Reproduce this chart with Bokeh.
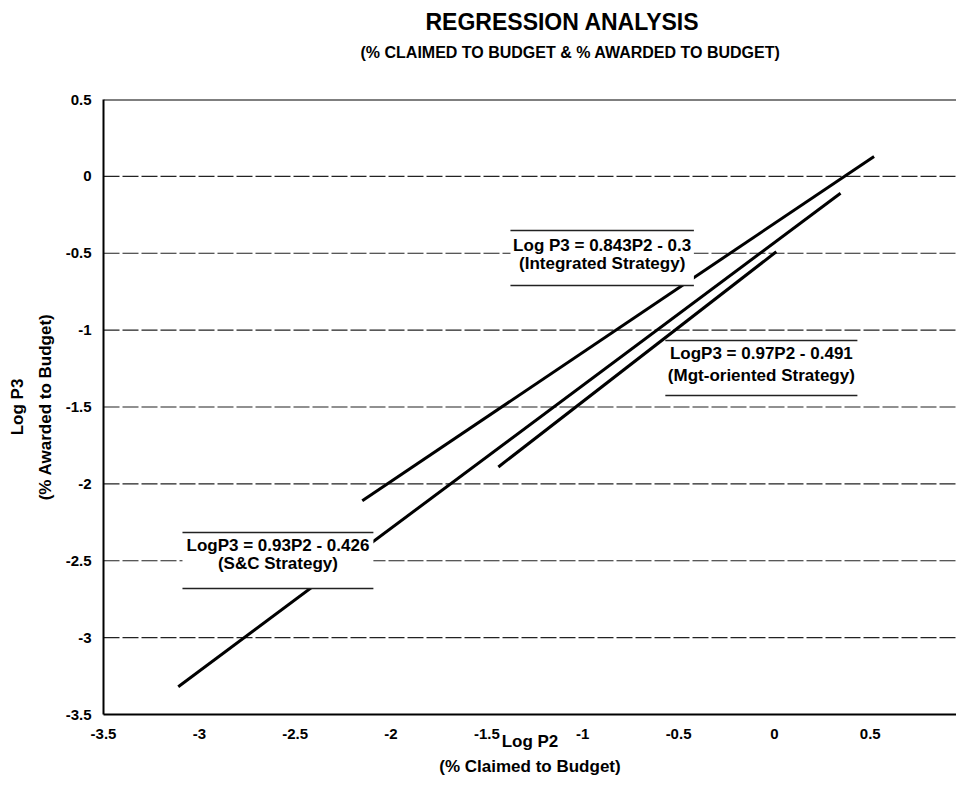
from bokeh.plotting import figure
from bokeh.models import Span, FixedTicker, LinearAxis, Title
from bokeh.core.properties import value
from bokeh.embed import file_html
from bokeh.resources import INLINE

# ---- data ----
strategies = ["Integrated", "S&C", "Mgt-oriented"]
x_start = [-2.15, -3.11, -1.44]
y_start = [-2.11, -3.32, -1.89]
x_end = [0.52, 0.345, 0.01]
y_end = [0.13, -0.11, -0.49]
eq_labels = ["Log P3 = 0.843P2 - 0.3", "LogP3 = 0.93P2 - 0.426", "LogP3 = 0.97P2 - 0.491"]
strategy_labels = ["(Integrated Strategy)", "(S&C Strategy)", "(Mgt-oriented Strategy)"]
x_ticks = [-3.5, -3, -2.5, -2, -1.5, -1, -0.5, 0, 0.5]
x_tick_labels = ["-3.5", "-3", "-2.5", "-2", "-1.5", "-1", "-0.5", "0", "0.5"]
y_ticks = [0.5, 0, -0.5, -1, -1.5, -2, -2.5, -3, -3.5]
y_tick_labels = ["0.5", "0", "-0.5", "-1", "-1.5", "-2", "-2.5", "-3", "-3.5"]
grid_levels = [0, -0.5, -1, -1.5, -2, -2.5, -3]

title_text = "REGRESSION ANALYSIS"
subtitle_text = "(% CLAIMED TO BUDGET & % AWARDED TO BUDGET)"
x_title = "Log P2"
x_subtitle = "(% Claimed to Budget)"
y_title = "Log P3"
y_subtitle = "(% Awarded to Budget)"

# annotation box layout (data units): left, right, top, bottom, line1 y, line2 y
boxes = [
    dict(l=-1.377, r=-0.42, t=-0.352, b=-0.71, y1=-0.45, y2=-0.567),
    dict(l=-3.088, r=-2.092, t=-2.316, b=-2.68, y1=-2.401, y2=-2.518),
    dict(l=-0.569, r=0.433, t=-1.067, b=-1.425, y1=-1.152, y2=-1.295),
]

FONT = "Liberation Sans"

p = figure(width=956, height=778, x_range=(-3.5, 0.95), y_range=(-3.5, 0.5),
           output_backend="svg", toolbar_location=None,
           min_border_left=103, min_border_top=99, min_border_right=0, min_border_bottom=60)
p.outline_line_color = None
p.background_fill_color = "white"
p.border_fill_color = "white"
p.xgrid.visible = False
p.ygrid.visible = False


def style_axis(ax, size="15px"):
    ax.axis_line_color = "black"
    ax.axis_line_width = 2
    ax.major_tick_in = 0
    ax.major_tick_out = 0
    ax.minor_tick_in = 0
    ax.minor_tick_out = 0
    ax.major_label_text_font = FONT
    ax.major_label_text_font_style = "bold"
    ax.major_label_text_font_size = size
    ax.major_label_text_color = "black"
    ax.axis_label_text_font = FONT
    ax.axis_label_text_font_style = "bold"
    ax.axis_label_text_font_size = "17px"
    ax.axis_label_text_color = "black"


xa = p.xaxis[0]
ya = p.yaxis[0]
style_axis(xa)
style_axis(ya)
xa.ticker = FixedTicker(ticks=x_ticks)
ya.ticker = FixedTicker(ticks=y_ticks)
xa.major_label_overrides = {t: s for t, s in zip(x_ticks, x_tick_labels)}
ya.major_label_overrides = {t: s for t, s in zip(y_ticks, y_tick_labels)}
xa.major_label_standoff = 14
ya.major_label_standoff = 12
xa.axis_label = x_title
xa.axis_label_standoff = -10
ya.axis_label = y_subtitle
ya.axis_label_standoff = 8

# second-line axis titles
x2 = LinearAxis(ticker=FixedTicker(ticks=[]), axis_label=x_subtitle)
style_axis(x2)
x2.axis_line_color = None
x2.major_label_standoff = 0
x2.axis_label_standoff = 3
p.add_layout(x2, "below")

y2 = LinearAxis(ticker=FixedTicker(ticks=[]), axis_label=y_title)
style_axis(y2)
y2.axis_line_color = None
y2.major_label_standoff = 0
y2.axis_label_standoff = 6
p.add_layout(y2, "left")

# titles (stacked outward from the frame)
p.add_layout(Title(text=" ", text_font_size="10px", standoff=24), "above")
p.add_layout(Title(text=subtitle_text, text_font=FONT, text_font_style="bold",
                   text_font_size="16px", text_color="black", align="left", offset=257,
                   standoff=2, vertical_align="middle"), "above")
p.add_layout(Title(text=title_text, text_font=FONT, text_font_style="bold",
                   text_font_size="23px", text_color="black", align="left", offset=322,
                   standoff=11, vertical_align="middle"), "above")

# gridlines
for g in grid_levels:
    p.add_layout(Span(location=g, dimension="width", line_color="#222222",
                      line_width=1.2, line_dash="16 3", level="underlay"))
p.add_layout(Span(location=0.5, dimension="width", line_color="black", line_width=2))

# regression lines
p.segment(x0=x_start, y0=y_start, x1=x_end, y1=y_end, line_color="black", line_width=3)

# annotation boxes
for b, eq, st in zip(boxes, eq_labels, strategy_labels):
    p.quad(left=b["l"], right=b["r"], top=b["t"], bottom=b["b"],
           fill_color="white", line_color=None)
    p.segment(x0=[b["l"], b["l"]], y0=[b["t"], b["b"]], x1=[b["r"], b["r"]], y1=[b["t"], b["b"]],
              line_color="#222222", line_width=1.5)
    cx = (b["l"] + b["r"]) / 2
    p.text(x=[cx, cx], y=[b["y1"], b["y2"]], text=[eq, st], text_align="center",
           text_baseline="middle", text_font=value(FONT), text_font_style="bold",
           text_font_size="17px", text_color="black")

open("out.html", "w").write(file_html(p, INLINE))
